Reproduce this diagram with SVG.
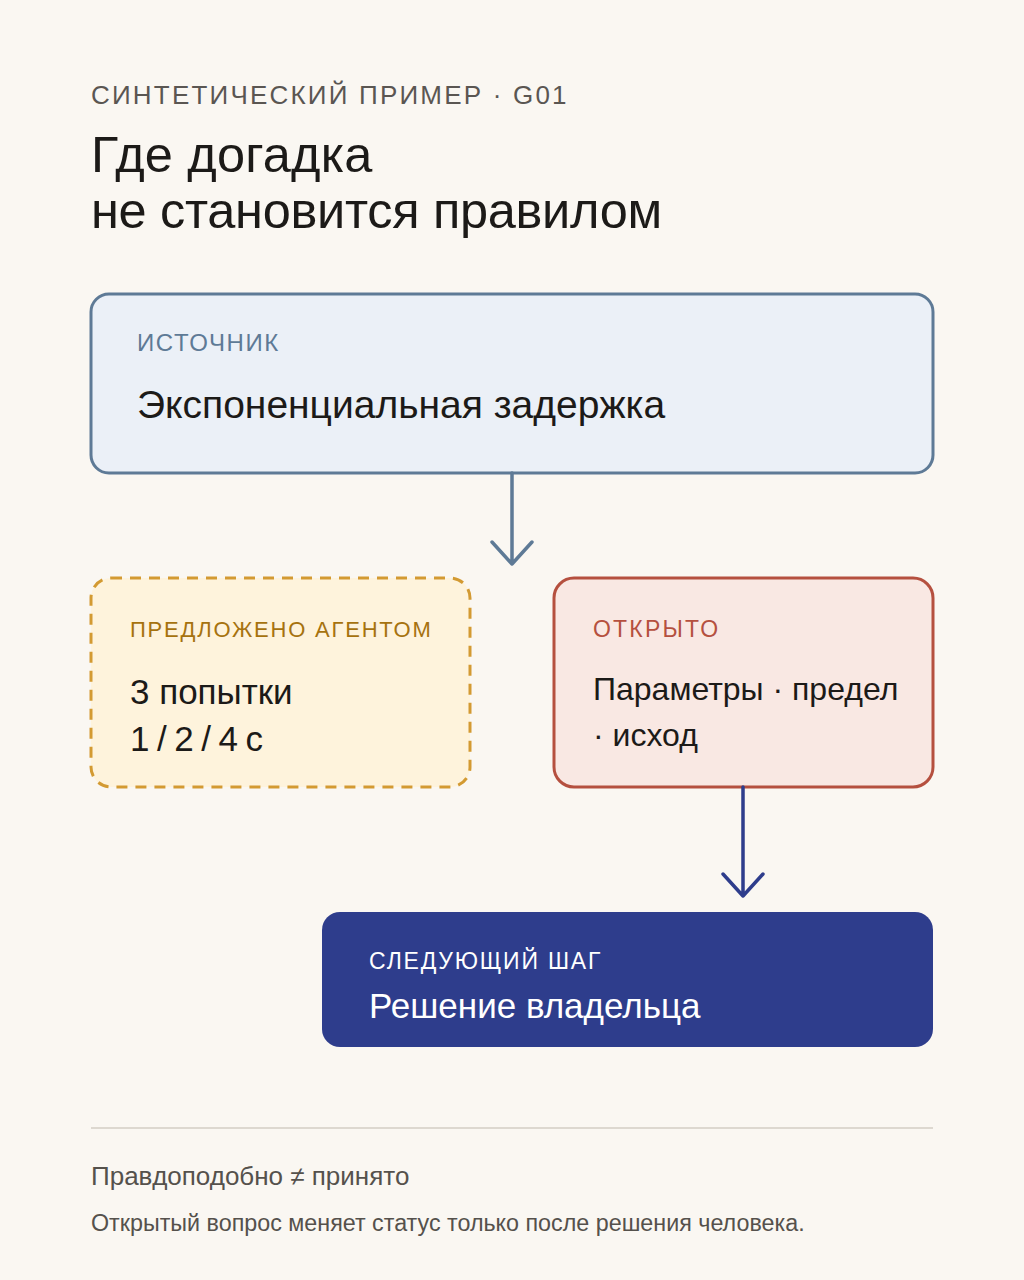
<svg xmlns="http://www.w3.org/2000/svg" width="1024" height="1280" viewBox="0 0 1024 1280">
<style>
text{font-family:"Liberation Sans",Arial,sans-serif}
.kicker{font-size:26px;fill:#5a5652;letter-spacing:2.2px}
.title{font-size:50.5px;fill:#1c1a18;letter-spacing:-0.3px}
.lbl{font-size:23px;letter-spacing:1.8px}
.body{font-size:35px;fill:#1c1a18}
.foot1{font-size:26px;fill:#55514c}
.foot2{font-size:23.3px;fill:#55514c}
.conn{fill:none;stroke-width:3.5;stroke-linecap:round;stroke-linejoin:round}
</style>
<rect width="1024" height="1280" fill="#faf7f2"/>
<g id="header">
<text class="kicker" x="91" y="104">СИНТЕТИЧЕСКИЙ ПРИМЕР · G01</text>
<text class="title" x="91" y="172" style="letter-spacing:0.2px">Где догадка</text>
<text class="title" x="91" y="228">не становится правилом</text>
</g>
<g id="node-source">
<rect x="91" y="294" width="842" height="179" rx="18" fill="#ebf0f7" stroke="#5e7a96" stroke-width="3"/>
<text class="lbl" x="137" y="351" fill="#5e7a96" style="font-size:24px;letter-spacing:1.6px">ИСТОЧНИК</text>
<text class="body" x="137" y="418" style="font-size:39px">Экспоненциальная задержка</text>
</g>
<g id="node-proposed">
<rect x="91" y="578" width="379" height="209" rx="20" fill="#fef3dc" stroke="#d39a32" stroke-width="3" stroke-dasharray="11 8"/>
<text class="lbl" x="130" y="637" fill="#a6720f" style="font-size:22px">ПРЕДЛОЖЕНО АГЕНТОМ</text>
<text class="body" x="130" y="704">3 попытки</text>
<text class="body" x="130" y="751" style="letter-spacing:-1.1px">1 / 2 / 4 с</text>
</g>
<g id="node-open">
<rect x="554" y="578" width="379" height="209" rx="20" fill="#f9e8e3" stroke="#b5503f" stroke-width="3"/>
<text class="lbl" x="593" y="637" fill="#b5503f" style="letter-spacing:2.2px">ОТКРЫТО</text>
<text class="body" x="593" y="700" style="font-size:32px">Параметры · предел</text>
<text class="body" x="593" y="746" style="font-size:32px">· исход</text>
</g>
<g id="node-next">
<rect x="322" y="912" width="611" height="135" rx="18" fill="#2e3d8c"/>
<text class="lbl" x="369" y="969" fill="#ffffff">СЛЕДУЮЩИЙ ШАГ</text>
<text class="body" x="369" y="1018" style="fill:#ffffff">Решение владельца</text>
</g>
<g id="connectors">
<path class="conn" stroke="#5e7a96" d="M512 473 V564 M492 542 L512 564 L532 542"/>
<path class="conn" stroke="#2e3d8c" d="M743 787 V896 M723 874 L743 896 L763 874"/>
</g>
<g id="footer">
<line x1="91" y1="1128" x2="933" y2="1128" stroke="#ddd8d0" stroke-width="2"/>
<text class="foot1" x="91" y="1185">Правдоподобно ≠ принято</text>
<text class="foot2" x="91" y="1231">Открытый вопрос меняет статус только после решения человека.</text>
</g>
</svg>
